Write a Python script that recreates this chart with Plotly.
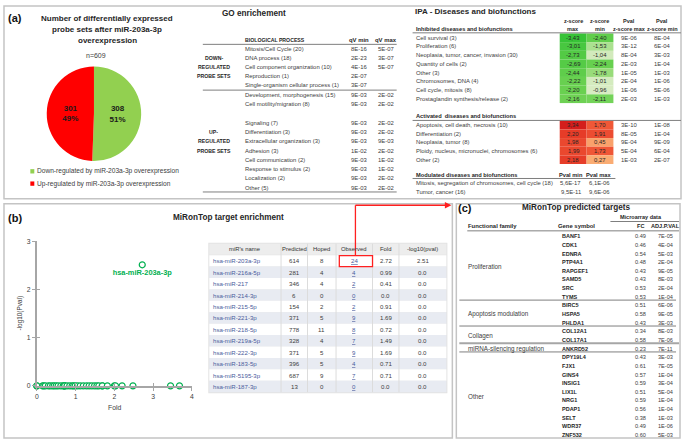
import plotly.graph_objects as go

W, H = 685, 443
FONT = "Liberation Sans"

# ---------------- data ----------------
pie_labels = ["Down-regulated by miR-203a-3p overexpression",
              "Up-regulated by miR-203a-3p overexpression"]
pie_values = [308, 301]
pie_colors = ["#92D050", "#FF0000"]

go_down_terms = ["Mitosis/Cell Cycle (20)", "DNA process (18)", "Cell component organization (10)",
                 "Reproduction (1)", "Single-organism cellular process (1)"]
go_down_qmin = ["8E-16", "2E-23", "4E-16", "2E-07", "3E-07"]
go_down_qmax = ["5E-07", "3E-07", "5E-07", "", ""]
go_up_terms = ["Development, morphogenesis (15)", "Cell motility/migration (8)", "",
               "Signaling (7)", "Differentiation (3)", "Extracellular organization (3)", "Adhesion (3)",
               "Cell communication (2)", "Response to stimulus (2)", "Localization (2)", "Other (5)"]
go_up_qmin = ["9E-03", "9E-03", "", "9E-03", "9E-03", "9E-03", "1E-02", "9E-03", "9E-03", "9E-03", "9E-03"]
go_up_qmax = ["2E-02", "2E-02", "", "2E-02", "2E-02", "9E-03", "2E-02", "1E-02", "1E-02", "2E-02", "2E-02"]

inh_terms = ["Cell survival (3)", "Proliferation (6)", "Neoplasia, tumor, cancer, invasion (30)",
             "Quantity of cells (2)", "Other (3)", "Chromosomes, DNA (4)", "Cell cycle, mitosis (8)",
             "Prostaglandin synthesis/release (2)"]
inh_zmax = [-3.43, -3.01, -2.73, -2.69, -2.44, -2.22, -2.20, -2.16]
inh_zmin = [-2.40, -1.53, -1.04, -2.24, -1.78, -1.01, -0.96, -2.11]
inh_pmax = ["9E-06", "3E-12", "8E-04", "2E-03", "1E-05", "2E-04", "1E-06", "2E-03"]
inh_pmin = ["8E-04", "6E-04", "3E-03", "1E-04", "1E-03", "1E-06", "5E-06", "1E-03"]

act_terms = ["Apoptosis, cell death, necrosis (10)", "Differentiation (2)", "Neoplasia, tumor (8)",
             "Ploidy, nucleus, micronuclei, chromosomes (6)", "Other (2)"]
act_zmax = [3.34, 2.20, 1.98, 1.99, 2.18]
act_zmin = [1.70, 1.91, 0.45, 1.73, 0.27]
act_pmax = ["3E-10", "8E-05", "9E-04", "5E-04", "1E-03"]
act_pmin = ["1E-08", "1E-04", "9E-09", "6E-04", "2E-07"]

mod_terms = ["Mitosis, segregation of chromosomes, cell cycle (18)", "Tumor, cancer (16)"]
mod_pmin = ["5,6E-17", "9,5E-11"]
mod_pmax = ["6,1E-06", "9,6E-06"]

mir_names = ["hsa-miR-203a-3p", "hsa-miR-216a-5p", "hsa-miR-217", "hsa-miR-214-3p", "hsa-miR-215-5p",
             "hsa-miR-221-3p", "hsa-miR-218-5p", "hsa-miR-219a-5p", "hsa-miR-222-3p", "hsa-miR-183-5p",
             "hsa-miR-5195-3p", "hsa-miR-187-3p"]
mir_predicted = [614, 281, 346, 6, 154, 371, 778, 328, 371, 396, 687, 13]
mir_hoped = [8, 4, 4, 0, 2, 5, 11, 4, 5, 5, 9, 0]
mir_observed = [24, 4, 2, 0, 2, 9, 8, 7, 9, 4, 7, 0]
mir_fold = [2.72, 0.99, 0.41, 0.0, 0.91, 1.69, 0.72, 1.49, 1.69, 0.71, 0.71, 0.0]
mir_neglog = [2.51, 0, 0, 0, 0, 0, 0, 0, 0, 0, 0, 0]

scatter_fold = [2.72, 0.0, 0.0, 0.15, 0.18, 0.22, 0.30, 0.35, 0.41, 0.45, 0.50, 0.55, 0.62, 0.68,
                0.71, 0.71, 0.72, 0.78, 0.85, 0.91, 0.95, 0.99, 1.05, 1.12, 1.20, 1.28, 1.35, 1.42,
                1.49, 1.55, 1.60, 1.69, 1.69, 1.82, 2.00, 2.03, 2.20, 2.48, 3.45, 3.68]
scatter_neglog = [2.51] + [0.0] * (len(scatter_fold) - 1)
scatter_labels = ["hsa-miR-203a-3p"] + [""] * (len(scatter_fold) - 1)

x_ticks = [0, 1, 2, 3, 4]
y_ticks = [0, 1, 2, 3]

fam_names = ["Proliferation", "Apoptosis modulation", "Collagen", "miRNA-silencing regulation", "Other"]
fam_sizes = [8, 3, 2, 1, 10]
genes = ["BANF1", "CDK1", "EDNRA", "PTP4A1", "RAPGEF1", "SAMD5", "SRC", "TYMS",
         "BIRC5", "HSPA5", "PHLDA1", "COL12A1", "COL17A1", "ANKRD52",
         "DPY19L4", "FJX1", "GINS4", "INSIG1", "LIX1L", "NRG1", "PDAP1", "SELT", "WDR37", "ZNF532"]
gene_fc = [0.49, 0.46, 0.54, 0.48, 0.43, 0.43, 0.53, 0.53, 0.51, 0.58, 0.43, 0.34, 0.58, 0.23,
           0.43, 0.61, 0.57, 0.59, 0.51, 0.59, 0.56, 0.38, 0.49, 0.60]
gene_adjp = ["7E-05", "4E-04", "5E-03", "2E-04", "9E-05", "8E-03", "2E-04", "1E-04", "6E-06", "9E-05",
             "3E-03", "8E-03", "7E-06", "7E-11", "3E-03", "7E-05", "1E-04", "3E-04", "5E-04", "1E-04",
             "1E-04", "1E-03", "1E-06", "5E-03"]

# ---------------- helpers ----------------
ann = []
shapes = []
DARK = "#262626"
GREY = "#404040"
SM = 5.9


def X(p):
    return p / W


def Y(p):
    return 1 - p / H


def text(x, y, s, size=SM, color=GREY, bold=False, xa="left", ya="middle", angle=0, under=False):
    f = dict(family=FONT, size=size, color=color)
    if bold:
        f["weight"] = "bold"
    if under:
        f["lineposition"] = "under"
    ann.append(dict(x=X(x), y=Y(y), xref="paper", yref="paper", text=s, showarrow=False,
                    xanchor=xa, yanchor=ya, font=f, textangle=angle, borderpad=0))


def line(x0, y0, x1, y1, color="#7f7f7f", width=1):
    shapes.append(dict(type="line", xref="paper", yref="paper", x0=X(x0), y0=Y(y0), x1=X(x1), y1=Y(y1),
                       line=dict(color=color, width=width)))


def rect(x0, y0, x1, y1, fill="rgba(0,0,0,0)", color="rgba(0,0,0,0)", width=0):
    shapes.append(dict(type="rect", xref="paper", yref="paper", x0=X(x0), y0=Y(y0), x1=X(x1), y1=Y(y1),
                       fillcolor=fill, line=dict(color=color, width=width), layer="below"))


def interp(v, stops):
    if v <= stops[0][0]:
        c = stops[0][1]
    elif v >= stops[-1][0]:
        c = stops[-1][1]
    else:
        for (v0, c0), (v1, c1) in zip(stops[:-1], stops[1:]):
            if v0 <= v <= v1:
                t = (v - v0) / (v1 - v0)
                c = tuple(round(a + (b - a) * t) for a, b in zip(c0, c1))
                break
    return "rgb(%d,%d,%d)" % c


GREEN_STOPS = [(0.96, (216, 236, 195)), (1.8, (150, 220, 120)), (2.2, (105, 208, 80)), (3.43, (55, 195, 55))]
RED_STOPS = [(0.27, (250, 172, 115)), (1.7, (240, 88, 55)), (2.2, (230, 60, 40)), (3.34, (212, 30, 28))]


def zfmt(v):
    return ("%.2f" % v).replace(".", ",")


# ---------------- panel frames ----------------
for (x0, y0, x1, y1) in [(2, 2, 683, 198), (2, 203, 453, 441), (457, 203, 682, 441)]:
    rect(x0, y0, x1, y1, color="#c4c4c4", width=1.5)

# ---------------- panel (a): pie ----------------
text(5, 14, "(a)", size=11, color="#111111", bold=True)
for i, s in enumerate(["Number of differentially expressed", "probe sets after miR-203a-3p", "overexpression"]):
    text(106, 15 + 11 * i, s, size=8, color=DARK, bold=True, xa="center")
text(95, 52, "n=%d" % sum(pie_values), size=7, color=GREY, xa="center")

for i, (lab, col) in enumerate(zip(pie_labels, pie_colors)):
    yy = 170 + 12.5 * i
    rect(28.5, yy - 2.2, 32.5, yy + 2.2, fill=col)
    text(34, yy, lab, size=6.6, color=GREY)

# ---------------- panel (a): GO ----------------
text(253, 10, "GO enrichement", size=8.2, color=DARK, bold=True, xa="center")
text(243, 36.5, "BIOLOGICAL PROCESS", size=5.2, color=DARK, bold=True)
text(359, 36.5, "qV min", size=SM, color=DARK, bold=True, xa="center")
text(386, 36.5, "qV max", size=SM, color=DARK, bold=True, xa="center")
line(202, 41, 397, 41)
down_y = [46 + 9.2 * i for i in range(len(go_down_terms))]
for yy, t, a, b in zip(down_y, go_down_terms, go_down_qmin, go_down_qmax):
    text(243, yy, t)
    text(359, yy, a, xa="center")
    text(386, yy, b, xa="center")
for k, s in enumerate(["DOWN-", "REGULATED", "PROBE SETS"]):
    text(213, down_y[1 + k], s, size=5.2, color=DARK, bold=True, xa="center")
line(202, 87.5, 397, 87.5)
up_y = [92.5 + 9.4 * j for j in range(len(go_up_terms))]
for yy, t, a, b in zip(up_y, go_up_terms, go_up_qmin, go_up_qmax):
    if t:
        text(243, yy, t)
        text(359, yy, a, xa="center")
        text(386, yy, b, xa="center")
for k, s in enumerate(["UP-", "REGULATED", "PROBE SETS"]):
    text(213, up_y[4 + k], s, size=5.2, color=DARK, bold=True, xa="center")
line(202, 191, 397, 191)

# ---------------- panel (a): IPA ----------------
text(414, 8, "IPA - Diseases and biofunctions", size=8, color=DARK, bold=True)
COLS = [574.5, 601.5, 631, 664]
for cx, l1, l2 in zip(COLS, ["z-score", "z-score", "Pval", "Pval"], ["max", "min", "z-score max", "z-score min"]):
    text(cx, 17, l1, size=5.5, color=DARK, bold=True, xa="center")
    text(cx, 25, l2, size=5.5, color=DARK, bold=True, xa="center")
text(415, 25, "Inhibited diseases and biofunctions", size=5.7, color=DARK, bold=True)
line(413, 29.3, 683, 29.3)
for i, (t, a, b, p, q) in enumerate(zip(inh_terms, inh_zmax, inh_zmin, inh_pmax, inh_pmin)):
    yy = 34.3 + 8.85 * i
    rect(561, yy - 4.43, 588, yy + 4.43, fill=interp(abs(a), GREEN_STOPS))
    rect(588, yy - 4.43, 615, yy + 4.43, fill=interp(abs(b), GREEN_STOPS))
    text(415, yy, t)
    text(COLS[0], yy, zfmt(a), color=DARK, xa="center")
    text(COLS[1], yy, zfmt(b), color=DARK, xa="center")
    text(COLS[2], yy, p, xa="center")
    text(COLS[3], yy, q, xa="center")

text(415, 114, "Activated  diseases and biofunctions", size=5.7, color=DARK, bold=True)
line(413, 118.3, 683, 118.3)
for i, (t, a, b, p, q) in enumerate(zip(act_terms, act_zmax, act_zmin, act_pmax, act_pmin)):
    yy = 123 + 8.8 * i
    rect(561, yy - 4.4, 588, yy + 4.4, fill=interp(a, RED_STOPS))
    rect(588, yy - 4.4, 615, yy + 4.4, fill=interp(b, RED_STOPS))
    text(415, yy, t)
    text(COLS[0], yy, zfmt(a), color=DARK, xa="center")
    text(COLS[1], yy, zfmt(b), color=DARK, xa="center")
    text(COLS[2], yy, p, xa="center")
    text(COLS[3], yy, q, xa="center")

text(415, 173.3, "Modulated diseases and biofunctions", size=5.7, color=DARK, bold=True)
text(572, 173.3, "Pval min", size=5.7, color=DARK, bold=True, xa="center")
text(601, 173.3, "Pval max", size=5.7, color=DARK, bold=True, xa="center")
line(413, 177.3, 617, 177.3)
for i, (t, a, b) in enumerate(zip(mod_terms, mod_pmin, mod_pmax)):
    yy = 182 + 9 * i
    text(415, yy, t)
    text(572, yy, a, xa="center")
    text(601, yy, b, xa="center")

# ---------------- panel (b) ----------------
text(5, 217, "(b)", size=11, color="#111111", bold=True)
text(228, 217, "MiRonTop target enrichment", size=8.2, color=DARK, bold=True, xa="center")
text(18, 314.5, "-log10(Pval)", size=6.4, color=GREY, xa="center", angle=-90)
text(113, 410, "Fold", size=6.8, color=GREY, xa="center")

# table
TB = [208.5, 280.7, 307.3, 336, 372.7, 399.3, 447]
HDR = ["miR's name", "Predicted", "Hoped", "Observed", "Fold", "-log10(pval)"]
row_h = 11.6
top = 255.2
rect(207.5, 242.5, 448, top + row_h * len(mir_names) + 1, fill="#e3e3e3")
rect(TB[0], 243.5, TB[-1], 254.8, fill="#ededed")
for i in range(len(mir_names)):
    rect(TB[0], top + row_h * i, TB[-1], top + row_h * (i + 1),
         fill="#e8ebf2" if i % 2 else "#ffffff")
for xb in TB[1:-1]:
    line(xb, 243.5, xb, top + row_h * len(mir_names), color="#dcdcdc", width=1)
centers = [(a + b) / 2 for a, b in zip(TB[:-1], TB[1:])]
for cx, h in zip(centers, HDR):
    text(cx, 249, h, size=5.9, color="#333333", xa="center")
BLUE = "#4a5b9c"
for i in range(len(mir_names)):
    yy = top + row_h * (i + 0.5)
    text(211, yy, mir_names[i], size=6.1, color=BLUE)
    text(centers[1], yy, str(mir_predicted[i]), size=6.1, xa="center")
    text(centers[2], yy, str(mir_hoped[i]), size=6.1, xa="center")
    text(centers[3], yy, str(mir_observed[i]), size=6.1, color=BLUE, xa="center", under=True)
    text(centers[4], yy, "%.2f" % mir_fold[i] if mir_fold[i] else "0.0", size=6.1, xa="center")
    text(centers[5], yy, "%.2f" % mir_neglog[i] if mir_neglog[i] else "0.0", size=6.1, xa="center")

# red highlight + arrow
shapes.append(dict(type="rect", xref="paper", yref="paper", x0=X(339.3), y0=Y(255.7), x1=X(372.7), y1=Y(266.8),
                   line=dict(color="#ff2020", width=1.3), layer="above"))
line(355.5, 255.7, 355.5, 204.5, color="#ff2020", width=1.3)
line(355.5, 204.5, 447, 204.5, color="#ff2020", width=1.3)
ann.append(dict(x=X(452), y=Y(204.5), xref="paper", yref="paper", ax=-8, ay=0, text="", showarrow=True,
                arrowhead=2, arrowsize=1, arrowwidth=1.3, arrowcolor="#ff2020"))

# ---------------- panel (c) ----------------
text(457.5, 207, "(c)", size=11, color="#111111", bold=True)
text(578, 207, "MiRonTop predicted targets", size=8.2, color=DARK, bold=True, xa="center")
text(643, 216.5, "Microarray data", size=5.5, color=DARK, bold=True, xa="center")
line(612, 221, 681, 221)
text(468, 226, "Functional family", size=5.9, color=DARK, bold=True)
text(578, 226, "Gene symbol", size=5.9, color=DARK, bold=True, xa="center")
text(642, 226, "FC", size=5.6, color=DARK, bold=True, xa="center")
text(667, 226, "ADJ.P.VAL", size=5.6, color=DARK, bold=True, xa="center")
line(468, 230.5, 681, 230.5)
gy = [236 + 8.78 * k for k in range(len(genes))]
for k in range(len(genes)):
    text(562, gy[k], genes[k], size=5.5, color=DARK, bold=True)
    text(642, gy[k], "%.2f" % gene_fc[k], size=5.6, xa="center")
    text(667, gy[k], gene_adjp[k], size=5.6, xa="center")
start = 0
for gi, (name, n) in enumerate(zip(fam_names, fam_sizes)):
    mid = (gy[start] + gy[start + n - 1]) / 2
    text(468, mid, name, size=6.3, color=GREY)
    end = start + n
    if end < len(genes):
        sep = (gy[end - 1] + gy[end]) / 2 - 1
        if fam_names[gi + 1].startswith("miRNA"):
            line(460, sep, 681, sep, color="#a6a6a6", width=2)
        else:
            line(460, sep, 678, sep, color="#7f7f7f", width=1)
    start = end

# ---------------- traces ----------------
pie = go.Pie(values=pie_values, labels=pie_labels, marker=dict(colors=pie_colors, line=dict(width=0)),
             sort=False, direction="clockwise", rotation=0,
             domain=dict(x=[X(45), X(140)], y=[Y(160), Y(63)]),
             texttemplate="%{value}<br>%{percent:.0%}", textposition="inside",
             insidetextorientation="horizontal",
             textfont=dict(family=FONT, size=8, color="#1a1a1a", weight="bold"),
             showlegend=False, hoverinfo="skip")

sc = go.Scatter(x=scatter_fold, y=scatter_neglog, mode="markers+text", text=scatter_labels,
                textposition="bottom center",
                textfont=dict(family=FONT, size=7.4, color="#00B050", weight="bold"),
                marker=dict(symbol="circle", size=6, color="white", line=dict(color="#00B050", width=1.2)),
                cliponaxis=False, showlegend=False, hoverinfo="skip")

# companion axes give the tick marks that cross the axis lines
ghost = go.Scatter(x=[None], y=[None], xaxis="x2", yaxis="y2", showlegend=False, hoverinfo="skip")

fig = go.Figure([pie, sc, ghost])
axis_common = dict(showline=True, linecolor="#A6A6A6", linewidth=2, ticks="outside", ticklen=3,
                   tickcolor="#A6A6A6", tickwidth=1, showgrid=False, zeroline=False, fixedrange=True,
                   tickfont=dict(family=FONT, size=6.8, color=GREY))
inner_common = dict(showline=False, ticks="inside", ticklen=3, tickcolor="#A6A6A6", tickwidth=1,
                    showgrid=False, zeroline=False, showticklabels=False, fixedrange=True)
fig.update_layout(
    width=W, height=H, margin=dict(l=0, r=0, t=0, b=0),
    paper_bgcolor="white", plot_bgcolor="white",
    xaxis=dict(domain=[X(35), X(191)], range=[0, 4], tickvals=x_ticks, anchor="y", **axis_common),
    yaxis=dict(domain=[Y(388), Y(241)], range=[0, 3], tickvals=y_ticks, anchor="x", **axis_common),
    xaxis2=dict(overlaying="x", anchor="y2", range=[0, 4], tickvals=x_ticks, **inner_common),
    yaxis2=dict(overlaying="y", anchor="x2", range=[0, 3], tickvals=y_ticks, **inner_common),
    annotations=ann, shapes=shapes, font=dict(family=FONT),
)
fig.write_html("out.html", config={"displayModeBar": False},
               post_script="document.body.style.margin='0px';document.body.style.overflow='hidden';")
